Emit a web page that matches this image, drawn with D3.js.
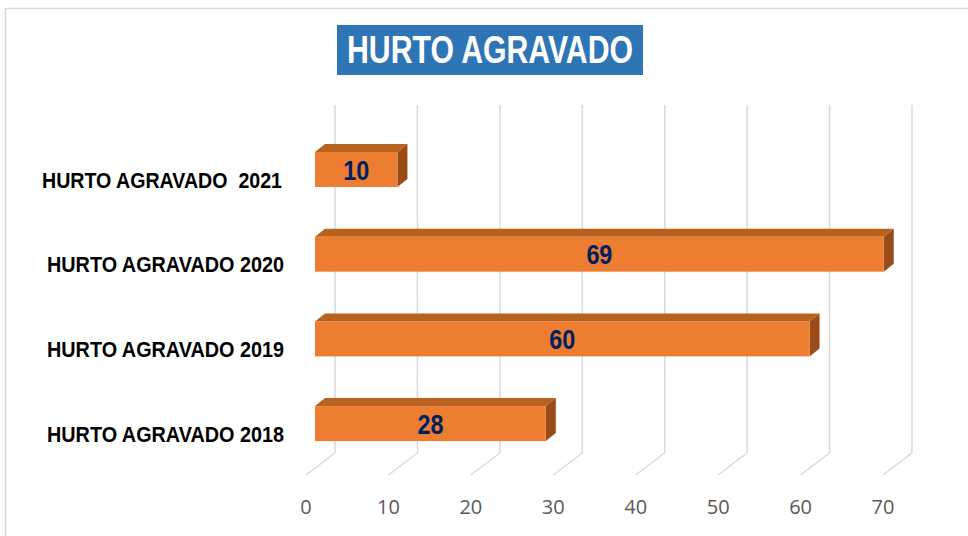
<!DOCTYPE html>
<html><head><meta charset="utf-8">
<script src="https://cdn.jsdelivr.net/npm/d3@7"></script>
<style>body{margin:0;background:#fff}svg{display:block}text{white-space:pre}</style>
</head><body>
<svg id="c" width="968" height="536"></svg>
<script>
const categories = ["HURTO AGRAVADO  2021","HURTO AGRAVADO 2020","HURTO AGRAVADO 2019","HURTO AGRAVADO 2018"];
const values = [10, 69, 60, 28];
const ticks = [0,10,20,30,40,50,60,70];
const title = "HURTO AGRAVADO";

const svg = d3.select("#c");
// frame
svg.append("path").attr("d","M5.5,536 V8.5 H968").attr("fill","none").attr("stroke","#d9d9d9").attr("stroke-width",1.5);

const xFront = d3.scaleLinear().domain([0,70]).range([306,883]);
const xBack = d3.scaleLinear().domain([0,70]).range([335,912]);
const xBar = d3.scaleLinear().domain([0,70]).range([315,892]);
const y = d3.scaleBand().domain(categories).range([102.3,490.8]).padding(0.587);
const backTop = 105, backBottom = 453, frontY = 475;

// gridlines
const g = svg.append("g");
ticks.forEach(t=>{
  g.append("line").attr("x1",xBack(t)).attr("x2",xBack(t)).attr("y1",backTop).attr("y2",backBottom)
   .attr("stroke","#d9d9d9").attr("stroke-width",1.5);
  g.append("line").attr("x1",xBack(t)).attr("x2",xFront(t)).attr("y1",backBottom).attr("y2",frontY)
   .attr("stroke","#d9d9d9").attr("stroke-width",1.5);
});
// tick labels
svg.append("g").selectAll("text").data(ticks).join("text")
  .attr("x",d=>xFront(d)).attr("y",514).attr("text-anchor","middle")
  .attr("font-family","Open Sans, Liberation Sans, sans-serif").attr("font-size",20).attr("fill","#595959")
  .text(d=>d);

// bars
const dx = 10, dy = 8;
const bars = svg.append("g").selectAll("g").data(categories).join("g");
bars.each(function(c,i){
  const gg = d3.select(this);
  const x0 = xBar(0), x1 = xBar(values[i]), y0 = y(c), h = y.bandwidth();
  gg.append("path").attr("d",`M${x0},${y0} L${x0+dx},${y0-dy} L${x1+dx},${y0-dy} L${x1},${y0} Z`).attr("fill","#b9611f");
  gg.append("path").attr("d",`M${x1},${y0} L${x1+dx},${y0-dy} L${x1+dx},${y0+h-dy} L${x1},${y0+h} Z`).attr("fill","#9a4c18");
  gg.append("rect").attr("x",x0).attr("y",y0).attr("width",x1-x0).attr("height",h).attr("fill","#ed7d31");
  gg.append("text").attr("x",(x0+x1)/2).attr("y",y0+h/2+10).attr("text-anchor","middle")
    .attr("font-family","Liberation Sans, Arial, sans-serif").attr("font-weight","bold").attr("font-size",28)
    .attr("fill","#002060").attr("textLength", String(values[i]).length*13).attr("lengthAdjust","spacingAndGlyphs")
    .text(values[i]);
});

// category labels
svg.append("g").selectAll("text").data(categories).join("text")
  .attr("x",(d,i)=> i===0 ? 282 : 284).attr("y",d=>y(d)+y.bandwidth()/2+18).attr("text-anchor","end")
  .attr("font-family","Liberation Sans, Arial, sans-serif").attr("font-weight","bold").attr("font-size",22)
  .attr("fill","#000").attr("textLength",(d,i)=> i===0 ? 240 : 237).attr("lengthAdjust","spacingAndGlyphs")
  .text(d=>d);

// title
svg.append("rect").attr("x",337).attr("y",25).attr("width",306).attr("height",50).attr("fill","#2e75b6");
svg.append("text").attr("x",490).attr("y",63).attr("text-anchor","middle")
  .attr("font-family","Liberation Sans, Arial, sans-serif").attr("font-weight","bold").attr("font-size",38)
  .attr("fill","#fff").attr("textLength",286).attr("lengthAdjust","spacingAndGlyphs").text(title);
</script>
</body></html>
